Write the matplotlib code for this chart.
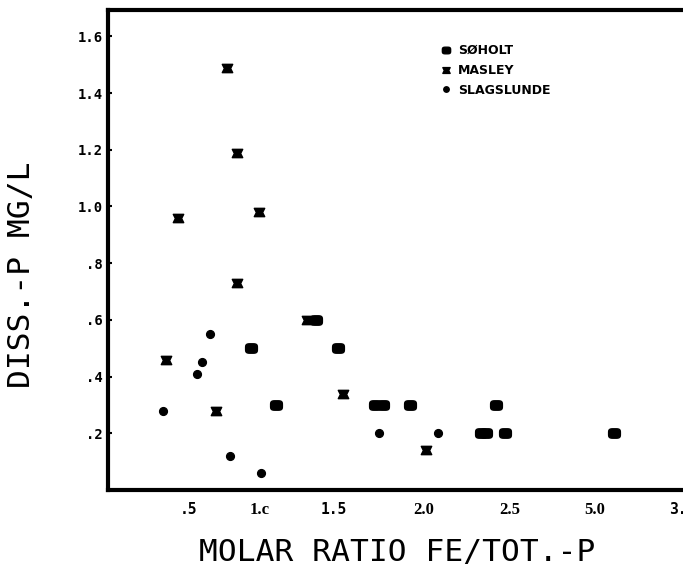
import numpy as np
import matplotlib
matplotlib.use("Agg")
import matplotlib.pyplot as plt
from matplotlib.path import Path

# ---------------- data ----------------
soholt_x = [1.38, 0.94, 1.52, 1.11, 1.73, 1.77, 1.92, 2.42, 2.33, 2.36, 2.47, 3.11]
soholt_y = [0.60, 0.50, 0.50, 0.30, 0.30, 0.30, 0.30, 0.30, 0.20, 0.20, 0.20, 0.20]
masley_x = [0.77, 0.84, 0.42, 0.99, 0.84, 1.32, 0.34, 0.69, 1.55, 2.01]
masley_y = [1.49, 1.19, 0.96, 0.98, 0.73, 0.60, 0.46, 0.28, 0.34, 0.14]
slag_x = [0.65, 0.59, 0.56, 0.32, 1.75, 2.08, 0.79, 1.01]
slag_y = [0.55, 0.45, 0.41, 0.28, 0.20, 0.20, 0.12, 0.06]

series_names = ["SØHOLT", "MASLEY", "SLAGSLUNDE"]

x_tick_values = [0.5, 1.0, 1.5, 2.0, 2.5, 3.0, 3.5]
x_tick_labels = [".5", "1.c", "1.5", "2.0", "2.5", "5.0", "3.5"]
y_tick_values = [0.2, 0.4, 0.6, 0.8, 1.0, 1.2, 1.4, 1.6]
y_tick_labels = [".2", ".4", ".6", ".8", "1.0", "1.2", "1.4", "1.6"]

# ---------------- scale (hand-drawn, uneven tick spacing) ----------------
_scale_vals = np.array([-10.0, 0.5, 1.0, 1.5, 2.0, 2.5, 3.0, 3.5, 20.0])
_scale_pos = np.array([-1302.0, 189, 260, 334, 424, 510, 595, 682, 3553.0])

def fwd(x):
    return np.interp(x, _scale_vals, _scale_pos)

def inv(p):
    return np.interp(p, _scale_pos, _scale_vals)

# ---------------- markers ----------------
bowtie = Path([(-1, 0.8), (1, 0.8), (0.6, 0), (1, -0.8), (-1, -0.8), (-0.6, 0), (-1, 0.8)],
              [Path.MOVETO] + [Path.LINETO] * 5 + [Path.CLOSEPOLY])
t = np.linspace(0, 2 * np.pi, 60)
n = 4.0
rx = np.sign(np.cos(t)) * np.abs(np.cos(t)) ** (2 / n)
ry = 0.8 * np.sign(np.sin(t)) * np.abs(np.sin(t)) ** (2 / n)
rsq = Path(np.column_stack([rx, ry]))

# ---------------- figure ----------------
W, H = 683, 569
fig = plt.figure(figsize=(W / 100, H / 100), dpi=100)
ax = fig.add_axes([108 / W, (H - 490) / H, (700 - 108) / W, (490 - 10) / H])
ax.set_xscale("function", functions=(fwd, inv))
ax.set_xlim(-0.07, 3.603)
ax.set_ylim(0, 1.693)

ax.plot(soholt_x, soholt_y, linestyle="none", marker=rsq, markersize=8.5,
        color="black", label=series_names[0])
ax.plot(masley_x, masley_y, linestyle="none", marker=bowtie, markersize=7.5,
        color="black", label=series_names[1])
ax.plot(slag_x, slag_y, linestyle="none", marker="o", markersize=5.6,
        color="black", label=series_names[2])

for side in ("left", "top", "bottom"):
    ax.spines[side].set_linewidth(3.0)
ax.spines["right"].set_visible(False)

ax.set_xticks(x_tick_values)
ax.set_xticklabels(x_tick_labels)
ax.set_yticks(y_tick_values)
ax.set_yticklabels(y_tick_labels)
ax.tick_params(axis="x", length=0, pad=9)
ax.tick_params(axis="y", direction="in", length=3, width=1.5, pad=4)
for lab in ax.get_yticklabels():
    lab.set_fontfamily("DejaVu Sans Mono")
    lab.set_fontweight("bold")
    lab.set_fontsize(10)
for lab in ax.get_xticklabels():
    txt = lab.get_text()
    if txt in ("2.0", "2.5", "5.0", "1.c"):
        lab.set_fontfamily("Liberation Serif")
        lab.set_fontsize(12)
    else:
        lab.set_fontfamily("DejaVu Sans Mono")
        lab.set_fontsize(10.5)
    lab.set_fontweight("bold")

leg = ax.legend(loc="upper left", bbox_to_anchor=((442 - 108) / 592, (490 - 44) / 480),
                frameon=False, markerscale=0.7, handlelength=0.7, handletextpad=0.6,
                borderpad=0, borderaxespad=0, labelspacing=0.55,
                prop={"family": "DejaVu Sans", "weight": "bold", "size": 9})

fig.text(22 / W, 1 - 275 / H, "DISS.-P MG/L", rotation=90, ha="center", va="center",
         family="DejaVu Sans Mono", fontsize=22.5)
fig.text(397 / W, 1 - 552 / H, "MOLAR RATIO FE/TOT.-P", ha="center", va="center",
         family="DejaVu Sans Mono", fontsize=22.5)

fig.savefig("out.png", dpi=100)
